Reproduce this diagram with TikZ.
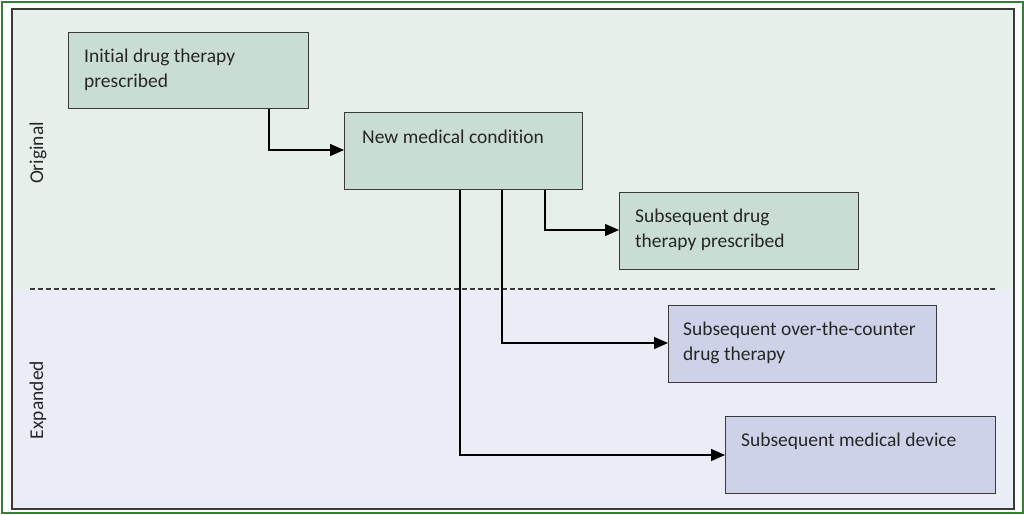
\documentclass[tikz,border=0pt]{standalone}
\usepackage{fontspec}
\setmainfont[Ligatures=CommonOff]{Carlito}
\usetikzlibrary{arrows.meta}
\definecolor{outergreen}{HTML}{3A7D3A}
\definecolor{framegray}{HTML}{3A3A3A}
\definecolor{topbg}{HTML}{E6EFEA}
\definecolor{botbg}{HTML}{EBEDF6}
\definecolor{gfill}{HTML}{C9DDD3}
\definecolor{pfill}{HTML}{CDD2E8}
\tikzset{
  boxbase/.style={draw=framegray, line width=1.4pt, rectangle, anchor=north west, inner sep=0pt},
  gbox/.style={boxbase, fill=gfill},
  pbox/.style={boxbase, fill=pfill},
  txt/.style={anchor=north west, align=left, inner sep=0pt, text=black!85, font=\fontsize{19.5}{25}\selectfont},
  side/.style={rotate=90, inner sep=0pt, text=black!85, font=\fontsize{19.5}{22}\selectfont},
  conn/.style={draw=black, line width=1.3pt, -{Triangle[length=14pt,width=12pt]}},
}
\begin{document}
\begin{tikzpicture}[x=1pt,y=-1pt]
\useasboundingbox (0,0) rectangle (1024,514);
\fill[white] (0,0) rectangle (1024,514);
\draw[outergreen, line width=2pt] (1.5,1.5) rectangle (1022.5,512.5);
\fill[topbg] (12,9) rectangle (1014,289);
\fill[botbg] (12,289) rectangle (1014,509);
\draw[framegray, line width=1.4pt] (12,9) rectangle (1014,509);
\draw[framegray, line width=1.1pt, dash pattern=on 5pt off 3pt] (30,289) -- (996,289);
\node[side] (orig) at (38,153) {Original};
\node[side] (expd) at (38,400) {Expanded};

\node[gbox, minimum width=240pt, minimum height=76pt] (init) at (68,32) {};
\node[txt] (initt) at ([xshift=16pt,yshift=-17pt]init.north west) {Initial drug therapy\\prescribed};

\node[gbox, minimum width=238pt, minimum height=77pt] (newc) at (344,112) {};
\node[txt] (newct) at ([xshift=18pt,yshift=-18pt]newc.north west) {New medical condition};

\node[gbox, minimum width=239pt, minimum height=77pt] (subd) at (619,192) {};
\node[txt] (subdt) at ([xshift=16pt,yshift=-17pt]subd.north west) {Subsequent drug\\therapy prescribed};

\node[pbox, minimum width=268pt, minimum height=77pt] (otc) at (668,305) {};
\node[txt] (otct) at ([xshift=15pt,yshift=-17pt]otc.north west) {Subsequent over-the-counter\\drug therapy};

\node[pbox, minimum width=270pt, minimum height=77pt] (dev) at (725,416) {};
\node[txt] (devt) at ([xshift=16pt,yshift=-17pt]dev.north west) {Subsequent medical device};

\coordinate (c1) at (269,150);
\coordinate (c2) at (545,230);
\coordinate (c3) at (502,343);
\coordinate (c4) at (460,455);
\draw[conn] (init.south -| c1) |- (newc.west |- c1);
\draw[conn] (newc.south -| c2) |- (subd.west |- c2);
\draw[conn] (newc.south -| c3) |- (otc.west |- c3);
\draw[conn] (newc.south -| c4) |- (dev.west |- c4);
\end{tikzpicture}
\end{document}
